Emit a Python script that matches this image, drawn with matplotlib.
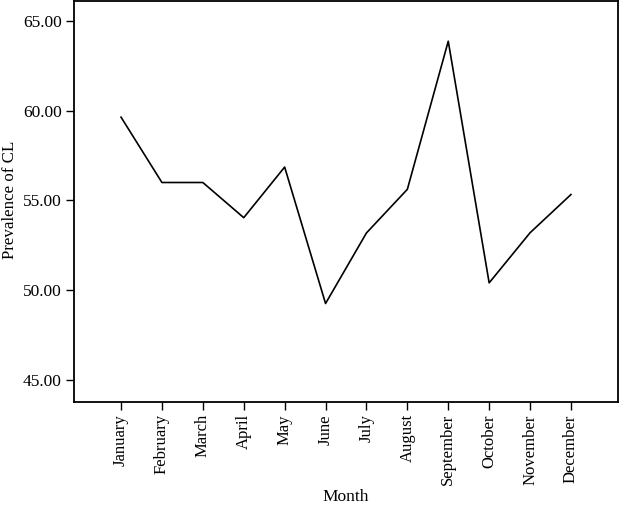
import numpy as np
import matplotlib
matplotlib.use('Agg')
import matplotlib.pyplot as plt
from matplotlib.ticker import FormatStrFormatter

# data
months = ['January', 'February', 'March', 'April', 'May', 'June',
          'July', 'August', 'September', 'October', 'November', 'December']
prevalence = [59.64, 56.0, 56.0, 54.04, 56.86, 49.26,
              53.19, 55.62, 63.87, 50.41, 53.2, 55.33]
yticks = [45, 50, 55, 60, 65]

plt.rcParams['font.family'] = ['Liberation Serif', 'DejaVu Serif']
plt.rcParams['font.size'] = 12

W, H = 620., 505.
fig = plt.figure(figsize=(W/100, H/100), dpi=100)
ax = fig.add_axes([74/W, 1 - 401.7/H, (618 - 74)/W, (401.7 - 1)/H])

x = np.arange(len(months))
ax.plot(x, prevalence, color='k', lw=1.2)

ax.set_xlim(-1.15, len(months) - 1 + 1.15)
ax.set_ylim(43.79, 66.11)
ax.set_xticks(x)
ax.set_xticklabels(months, rotation=90)
ax.set_yticks(yticks)
ax.yaxis.set_major_formatter(FormatStrFormatter('%.2f'))
ax.tick_params(direction='out', length=6, width=1)
ax.tick_params(axis='x', labelsize=12, pad=3)
ax.tick_params(axis='y', labelsize=12.5, pad=3)

for sp in ax.spines.values():
    sp.set_linewidth(1.3)

# axis titles placed where the reference has them
fig.text(346/W, 1 - 497/H, 'Month', fontsize=12.5, ha='center', va='center')
fig.text(10/W, 1 - 200/H, 'Prevalence of CL', fontsize=12.2,
         rotation=90, ha='center', va='center')

fig.savefig('out.png', dpi=100)
plt.close()
